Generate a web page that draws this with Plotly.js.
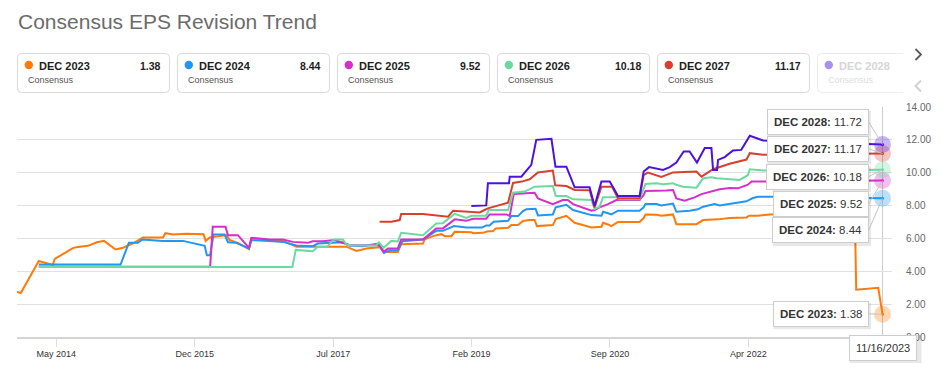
<!DOCTYPE html>
<html>
<head>
<meta charset="utf-8">
<script src="https://cdn.plot.ly/plotly-3.0.1.min.js"></script>
<style>html,body{margin:0;padding:0;background:#fff;}#chart{width:949px;height:385px;}</style>
</head>
<body>
<div id="chart"></div>
<script>
// ---------------- DATA ----------------
const seriesNames = ['DEC 2023','DEC 2024','DEC 2025','DEC 2026','DEC 2027','DEC 2028'];

const dec2023X = ['2013-11-16','2013-12-02','2014-02-16','2014-03-17','2014-04-16','2014-04-24','2014-07-10','2014-07-24','2014-09-11','2014-10-20','2014-11-18','2015-01-06','2015-02-06','2015-02-27','2015-03-27','2015-05-01','2015-07-25','2015-08-04','2015-09-05','2015-10-31','2015-12-27','2016-01-12','2016-01-21','2016-02-07','2016-03-20','2016-04-18','2016-05-01','2016-06-05','2016-07-22','2016-08-01','2016-10-16','2016-12-12','2017-01-23','2017-02-07','2017-09-06','2017-10-18','2017-11-29','2018-01-24','2018-02-14','2018-04-11','2018-04-25','2018-07-26','2018-08-02','2018-09-06','2018-10-12','2018-10-26','2018-11-23','2018-12-07','2019-02-15','2019-02-22','2019-04-05','2019-04-26','2019-05-17','2019-05-29','2019-07-20','2019-08-03','2019-08-31','2019-09-21','2019-10-19','2019-11-09','2019-11-19','2020-01-25','2020-02-06','2020-03-22','2020-04-26','2020-05-31','2020-07-06','2020-08-17','2020-08-24','2020-09-14','2020-09-28','2020-10-26','2021-01-25','2021-02-11','2021-02-19','2021-04-06','2021-04-27','2021-06-15','2021-06-29','2021-09-22','2021-10-20','2021-12-22','2022-02-09','2022-04-21','2022-05-02','2022-06-09','2022-07-28','2022-12-02','2023-04-07','2023-07-22','2023-07-28','2023-10-29','2023-11-16'];
const dec2023Y = [2.74,2.68,4.63,4.49,4.39,4.75,5.41,5.47,5.55,5.77,5.85,5.33,5.43,5.57,5.75,6.06,6.06,6.32,6.24,6.28,6.28,6.26,5.85,6.06,6.14,6.2,5.9,5.73,5.35,6.02,5.9,5.85,5.6,5.5,5.5,5.24,5.39,5.47,5.18,5.18,5.65,5.69,5.94,6.14,6.26,6.14,6.14,6.40,6.38,6.32,6.34,6.44,6.44,6.61,6.65,6.81,6.81,7.06,7.12,7.12,6.75,6.81,7.18,7.38,6.95,6.81,6.67,6.71,6.95,6.85,6.75,7.0,7.0,7.24,7.46,7.44,7.38,7.46,6.87,6.87,7.12,7.16,7.24,7.28,7.38,7.38,7.46,7.5,7.55,7.6,2.88,3.0,1.38];

const dec2024X = ['2014-02-16','2015-01-27','2015-03-03','2015-04-10','2015-04-29','2015-07-25','2015-10-17','2015-12-27','2016-01-17','2016-01-26','2016-02-09','2016-02-23','2016-04-10','2016-04-24','2016-05-29','2016-07-22','2016-08-01','2016-10-17','2016-12-12','2017-02-07','2017-04-17','2017-05-08','2017-06-27','2017-08-22','2017-09-19','2017-11-15','2018-01-17','2018-02-11','2018-03-07','2018-04-11','2018-04-30','2018-07-26','2018-09-20','2018-10-18','2018-12-04','2019-01-25','2019-04-02','2019-04-19','2019-05-03','2019-05-20','2019-07-20','2019-08-03','2019-08-31','2019-09-21','2019-10-05','2019-11-13','2019-11-23','2020-01-25','2020-02-06','2020-03-22','2020-04-19','2020-05-24','2020-07-06','2020-08-17','2020-08-24','2020-09-14','2020-09-28','2020-10-26','2021-01-25','2021-02-11','2021-02-19','2021-04-06','2021-04-27','2021-06-15','2021-06-29','2021-08-24','2021-09-28','2021-10-20','2021-12-08','2021-12-29','2022-03-02','2022-04-21','2022-05-18','2022-06-09','2022-07-28','2023-02-24','2023-11-16'];
const dec2024Y = [4.41,4.41,5.73,5.73,5.94,5.85,5.85,5.61,5.55,4.98,4.98,6.24,6.24,5.77,5.73,5.39,5.90,5.85,5.79,5.57,5.53,5.69,5.73,5.77,5.57,5.53,5.69,5.12,5.28,5.28,5.83,5.94,6.46,6.46,6.75,6.67,6.67,6.79,6.79,7.01,7.07,7.36,7.36,7.67,7.77,7.81,7.40,7.46,7.89,8.05,7.73,7.61,7.42,7.38,7.62,7.53,7.46,7.69,7.69,7.89,8.09,8.09,8.01,8.12,7.62,7.69,7.77,7.93,8.09,8.01,8.17,8.26,8.46,8.54,8.54,8.50,8.44];

const dec2025X = ['2014-02-16','2016-02-09','2016-02-20','2016-04-14','2016-04-24','2016-06-05','2016-07-22','2016-08-01','2016-10-17','2016-12-12','2017-01-23','2017-03-06','2017-03-27','2017-04-17','2017-05-30','2017-07-18','2017-08-29','2017-09-19','2018-01-10','2018-01-24','2018-02-10','2018-02-28','2018-04-11','2018-04-25','2018-07-26','2018-09-20','2018-10-18','2018-12-07','2019-01-25','2019-02-22','2019-04-19','2019-05-03','2019-07-13','2019-07-27','2019-08-13','2019-09-28','2019-11-09','2019-11-23','2020-01-25','2020-03-07','2020-03-28','2020-04-19','2020-05-24','2020-07-06','2020-07-19','2020-08-09','2020-09-14','2020-10-19','2021-01-25','2021-02-11','2021-02-19','2021-04-19','2021-05-18','2021-06-15','2021-06-29','2021-08-03','2021-09-14','2021-10-13','2021-12-01','2021-12-29','2022-02-09','2022-03-16','2022-04-27','2022-05-12','2022-06-30','2023-02-24','2023-11-16'];
const dec2025Y = [4.28,4.28,6.71,6.71,6.2,6.2,5.43,6.04,5.94,5.94,5.79,5.77,5.73,5.83,5.83,5.90,5.69,5.59,5.59,5.59,5.18,5.39,5.39,5.94,5.94,6.61,6.61,7.16,7.07,7.2,7.2,7.46,7.46,7.36,8.70,8.75,8.78,8.44,8.09,8.34,8.34,8.09,7.89,7.69,7.73,7.89,8.09,8.34,8.34,8.64,8.89,8.89,8.91,8.95,8.44,8.30,8.50,8.70,8.91,8.99,9.07,9.05,9.27,9.46,9.46,9.50,9.52];

const dec2026X = ['2014-02-16','2017-01-21','2017-02-04','2017-04-11','2017-04-17','2017-05-08','2017-06-17','2017-07-14','2017-08-22','2017-09-06','2017-10-03','2018-01-10','2018-01-21','2018-02-10','2018-03-14','2018-04-11','2018-04-25','2018-07-26','2018-09-20','2018-10-18','2018-12-07','2019-01-25','2019-02-15','2019-04-19','2019-04-30','2019-07-20','2019-08-10','2019-09-28','2019-11-09','2020-01-25','2020-02-06','2020-03-22','2020-04-19','2020-07-06','2020-07-19','2020-08-09','2020-08-24','2020-10-19','2020-11-03','2021-01-25','2021-02-11','2021-02-19','2021-04-06','2021-05-04','2021-06-15','2021-07-02','2021-07-27','2021-09-22','2021-10-20','2021-11-24','2021-12-15','2022-01-26','2022-03-23','2022-04-27','2022-05-05','2022-06-30','2023-11-16'];
const dec2026Y = [4.26,4.26,5.30,5.26,5.22,5.49,5.49,5.94,5.94,5.61,5.57,5.57,5.77,5.43,5.85,5.82,6.34,6.20,6.91,6.93,7.50,7.25,7.38,7.38,7.73,7.73,8.78,8.85,9.15,9.19,8.58,8.58,8.38,8.34,7.80,7.93,8.50,8.50,8.38,8.38,9.05,9.32,9.36,9.30,9.36,9.25,9.15,9.09,9.66,9.72,9.66,9.60,9.56,9.86,10.21,10.13,10.18];

const dec2027X = ['2018-01-24','2018-03-14','2018-04-19','2018-04-25','2018-07-26','2018-11-09','2018-11-30','2019-02-08','2019-03-22','2019-04-12','2019-04-26','2019-07-20','2019-08-10','2019-09-16','2019-10-19','2019-11-23','2020-01-25','2020-02-04','2020-03-22','2020-04-26','2020-06-28','2020-07-19','2020-08-17','2020-10-01','2020-10-26','2021-01-25','2021-02-11','2021-03-01','2021-04-27','2021-06-15','2021-09-22','2021-10-13','2021-12-01','2022-02-09','2022-04-21','2022-05-05','2022-06-30','2023-11-16'];
const dec2027Y = [7.01,7.01,7.12,7.48,7.48,7.32,7.69,7.61,7.58,7.73,7.83,8.17,9.38,9.46,9.60,10.01,10.13,9.23,9.19,8.95,8.93,7.89,9.15,9.15,8.44,8.44,9.86,10.01,9.74,10.02,10.07,9.76,10.21,10.55,10.80,11.19,11.09,11.17];

const dec2028X = ['2019-02-15','2019-04-19','2019-04-26','2019-07-24','2019-07-27','2019-09-14','2019-10-26','2019-11-16','2020-01-19','2020-02-05','2020-03-22','2020-04-26','2020-06-28','2020-07-19','2020-08-17','2020-09-21','2020-10-26','2021-01-25','2021-02-11','2021-03-06','2021-05-04','2021-06-01','2021-06-29','2021-07-30','2021-08-24','2021-09-24','2021-10-27','2021-11-24','2021-12-01','2021-12-18','2021-12-22','2022-01-19','2022-02-23','2022-03-30','2022-05-05','2022-06-30','2023-11-16'];
const dec2028Y = [7.97,8.01,9.36,9.36,9.76,9.76,10.48,12.00,12.06,10.37,10.37,9.11,9.11,7.97,9.46,9.46,8.58,8.58,10.07,10.34,10.17,10.34,10.62,11.29,11.29,10.62,11.50,11.50,10.17,10.17,10.78,10.95,11.35,11.39,12.25,11.96,11.72];

const yTickVals = [0,2,4,6,8,10,12,14];
const yTickText = ['0.00','2.00','4.00','6.00','8.00','10.00','12.00','14.00'];
const xTickVals = ['2014-05-01','2015-12-06','2017-07-12','2019-02-16','2020-09-22','2022-04-29'];
const xTickText = ['May 2014','Dec 2015','Jul 2017','Feb 2019','Sep 2020','Apr 2022'];
const hoverDateLabel = '11/16/2023';

// ---------------- STYLE ----------------
const lineColors = ['#ff7a0a','#2196f3','#d42fca','#6cd9a0','#d6412f','#4c12e0'];
const dotColors  = ['#ff7a0a','#2196f3','#d42fca','#6cd9a0','#d6412f','#a991f2'];
const FONT = 'Liberation Sans, Arial, Helvetica, sans-serif';

const W = 949, H = 385, ML = 17, MR = 57, MT = 107, MB = 48;
const PW = W - ML - MR, PH = H - MT - MB;
const X = px => (px - ML) / PW;
const Y = py => (H - MB - py) / PH;

const xs = [dec2023X, dec2024X, dec2025X, dec2026X, dec2027X, dec2028X];
const ys = [dec2023Y, dec2024Y, dec2025Y, dec2026Y, dec2027Y, dec2028Y];

const traces = [];
seriesNames.forEach((n, i) => {
  traces.push({type:'scatter', mode:'lines', name:n, x:xs[i], y:ys[i],
    line:{color:lineColors[i], width:2}, hoverinfo:'skip', showlegend:false});
});
// hover halos at last points
seriesNames.forEach((n, i) => {
  const lx = xs[i][xs[i].length-1], ly = ys[i][ys[i].length-1];
  traces.push({type:'scatter', mode:'markers', x:[lx], y:[ly], showlegend:false, hoverinfo:'skip',
    marker:{size:17, color:lineColors[i], opacity:0.3, line:{width:0}}});
  traces.push({type:'scatter', mode:'markers', x:[lx], y:[ly], showlegend:false, hoverinfo:'skip',
    marker:{size:3, color:lineColors[i], line:{width:0}}});
});

const shapes = [];
const annotations = [];

function rr(x0,y0,x1,y1,r){
  return `M ${X(x0+r)},${Y(y0)} L ${X(x1-r)},${Y(y0)} Q ${X(x1)},${Y(y0)} ${X(x1)},${Y(y0+r)} L ${X(x1)},${Y(y1-r)} Q ${X(x1)},${Y(y1)} ${X(x1-r)},${Y(y1)} L ${X(x0+r)},${Y(y1)} Q ${X(x0)},${Y(y1)} ${X(x0)},${Y(y1-r)} L ${X(x0)},${Y(y0+r)} Q ${X(x0)},${Y(y0)} ${X(x0+r)},${Y(y0)} Z`;
}
function openCard(x0,y0,x1,y1,r){
  return `M ${X(x1)},${Y(y0)} L ${X(x0+r)},${Y(y0)} Q ${X(x0)},${Y(y0)} ${X(x0)},${Y(y0+r)} L ${X(x0)},${Y(y1-r)} Q ${X(x0)},${Y(y1)} ${X(x0+r)},${Y(y1)} L ${X(x1)},${Y(y1)}`;
}

// legend cards
const cardY0 = 53.5, cardY1 = 92.5;
seriesNames.forEach((n, i) => {
  const x0 = 17.5 + i*160, x1 = x0 + 152;
  const faded = i === 5;
  const last = ys[i][ys[i].length-1];
  if (!faded) {
    shapes.push({type:'path', xref:'paper', yref:'paper', path:rr(x0,cardY0,x1,cardY1,4), line:{color:'#dadada', width:1}, fillcolor:'#ffffff', layer:'above'});
  } else {
    shapes.push({type:'path', xref:'paper', yref:'paper', path:openCard(x0,cardY0,903,cardY1,4), line:{color:'#ececec', width:1}, layer:'above'});
  }
  const cx = x0 + 11.3, cy = 65, r = 4.2;
  shapes.push({type:'circle', xref:'paper', yref:'paper', x0:X(cx-r), x1:X(cx+r), y0:Y(cy+r), y1:Y(cy-r), fillcolor:dotColors[i], line:{width:0}, layer:'above'});
  annotations.push({xref:'paper', yref:'paper', x:X(x0+19), y:Y(65.5), xanchor:'left', yanchor:'middle', showarrow:false,
    text:'<b>'+n+'</b>', font:{family:FONT, size:11, color: faded ? '#d6d6d6' : '#1e1e1e'}});
  annotations.push({xref:'paper', yref:'paper', x:X(x0+8.5), y:Y(80), xanchor:'left', yanchor:'middle', showarrow:false,
    text:'Consensus', font:{family:FONT, size:9, color: faded ? '#dddddd' : '#555555'}});
  if (!faded) {
    annotations.push({xref:'paper', yref:'paper', x:X(x1-7), y:Y(65.5), xanchor:'right', yanchor:'middle', showarrow:false,
      text:'<b>'+last.toFixed(2)+'</b>', font:{family:FONT, size:10.5, color:'#1e1e1e'}});
  }
});
// nav chevrons
shapes.push({type:'path', xref:'paper', yref:'paper', path:`M ${X(915.5)},${Y(49)} L ${X(921)},${Y(54.5)} L ${X(915.5)},${Y(60)}`, line:{color:'#5a5a5a', width:1.8}, layer:'above'});
shapes.push({type:'path', xref:'paper', yref:'paper', path:`M ${X(921)},${Y(80.5)} L ${X(915.5)},${Y(86)} L ${X(921)},${Y(91.5)}`, line:{color:'#cfcfcf', width:1.8}, layer:'above'});

// crosshair
const lastDate = dec2023X[dec2023X.length-1];
shapes.push({type:'line', xref:'x', yref:'paper', x0:lastDate, x1:lastDate, y0:-0.01, y1:1, line:{color:'#cccccc', width:1}, layer:'below'});

// tooltips: soft shadows (shapes) + boxes (annotations)
const boxCenterY = [313.8, 230.5, 204.2, 176.7, 148.8, 121.7];
const boxLeftX  = [772, 771, 772, 771, 766, 766];
const boxRightX = 869, boxHalfH = 13;
const ptY = v => (H - MB) - v * PH / 14;
seriesNames.forEach((n, i) => {
  const cy = boxCenterY[i];
  shapes.push({type:'rect', xref:'paper', yref:'paper', x0:X(boxLeftX[i]+1.5), x1:X(boxRightX+2), y0:Y(cy+boxHalfH+2.5), y1:Y(cy-boxHalfH+2),
    fillcolor:'rgba(0,0,0,0.09)', line:{width:0}, layer:'above'});
});
seriesNames.forEach((n, i) => {
  const lx = xs[i][xs[i].length-1], ly = ys[i][ys[i].length-1];
  annotations.push({xref:'x', yref:'y', x:lx, y:ly, showarrow:true, arrowhead:0, arrowwidth:1, standoff:0, arrowcolor:'#c4c4c4',
    ax:-14, ay: boxCenterY[i] - ptY(ly), xanchor:'right', yanchor:'middle',
    text:'<b>'+n+':</b> '+ly.toFixed(2), borderwidth:1, borderpad:6,
    font:{family:FONT, size:11.5, color:'#333333'}, bgcolor:'#ffffff', bordercolor:'#cdcdcd'});
});
shapes.push({type:'rect', xref:'paper', yref:'paper', x0:X(850), x1:X(921.5), y0:Y(363), y1:Y(335),
  fillcolor:'rgba(0,0,0,0.09)', line:{width:0}, layer:'above'});
annotations.push({xref:'x', yref:'paper', x:lastDate, y:Y(347.5), xanchor:'center', yanchor:'middle', showarrow:false,
  text:hoverDateLabel, borderwidth:1, borderpad:6, font:{family:FONT, size:11, color:'#333333'}, bgcolor:'#ffffff', bordercolor:'#cdcdcd'});

const layout = {
  width:W, height:H,
  margin:{l:ML, r:MR, t:MT, b:MB, pad:0},
  paper_bgcolor:'#ffffff', plot_bgcolor:'#ffffff',
  font:{family:FONT, size:10, color:'#333'},
  title:{text:'Consensus EPS Revision Trend', xref:'container', yref:'container', x:18/W, xanchor:'left', y:1-22/H, yanchor:'middle',
    font:{family:FONT, size:21, color:'#6b6b6b'}},
  xaxis:{type:'date', range:['2013-11-16','2023-12-26'], tickvals:xTickVals, ticktext:xTickText,
    showgrid:false, zeroline:false, showline:true, linecolor:'#d4d4d4', linewidth:1.5,
    ticks:'outside', ticklen:8, tickcolor:'#dddddd', tickwidth:1, tickfont:{family:FONT, size:9, color:'#333'}},
  yaxis:{range:[0,14], side:'right', tickvals:yTickVals, ticktext:yTickText, showgrid:true, gridcolor:'#e1e1e1', gridwidth:1,
    zeroline:false, showline:false, ticks:'', ticklabelstandoff:13, tickfont:{family:FONT, size:10, color:'#666'}},
  shapes:shapes, annotations:annotations, showlegend:false, hovermode:false
};

Plotly.newPlot('chart', traces, layout, {staticPlot:true, displayModeBar:false});
</script>
</body>
</html>
